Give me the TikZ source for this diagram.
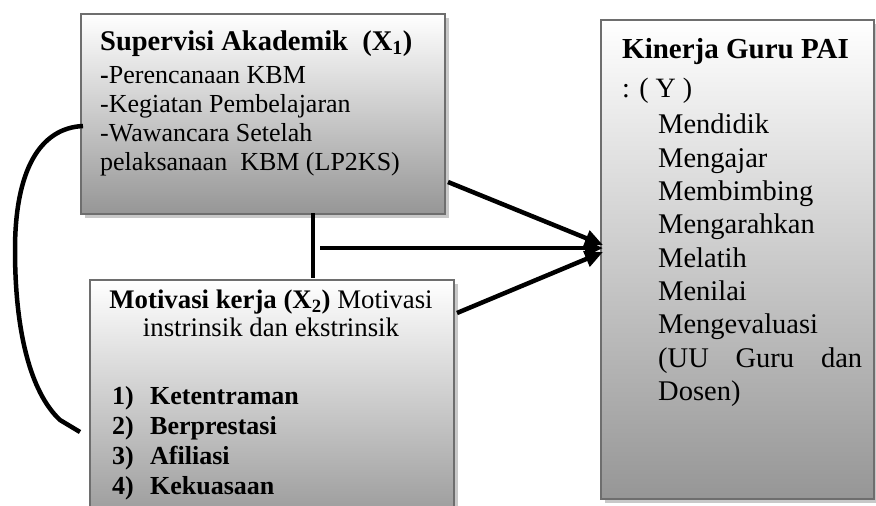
\documentclass[tikz,border=0pt]{standalone}
\usepackage{fontspec}
\setmainfont{Liberation Serif}
\usetikzlibrary{shadows,arrows.meta}
\definecolor{boxedge}{RGB}{110,110,110}
\definecolor{boxbot}{RGB}{150,150,150}
\definecolor{shadowc}{RGB}{200,200,200}
\begin{document}
\begin{tikzpicture}[x=1pt,y=-1pt,
  box/.style={draw=boxedge, line width=2pt, top color=white, bottom color=boxbot,
    inner sep=0pt, anchor=north west,
    drop shadow={shadow xshift=4pt, shadow yshift=-4pt, fill=shadowc, opacity=1}},
  txt/.style={inner sep=0pt, font=\fontsize{26}{29}\selectfont},
  conn/.style={line width=4.5pt},
  arr/.style={conn, -{Triangle[length=18pt,width=16pt]}}]
\clip (0,0) rectangle (876,506);
\fill[white] (0,0) rectangle (876,506);
% boxes
\node[box, minimum width=364pt, minimum height=200pt] (sup) at (80,13) {};
\node[box, minimum width=364pt, minimum height=250pt] (mot) at (89,279) {};
\node[box, minimum width=273pt, minimum height=479pt] (kin) at (600,19) {};
% texts
\node[txt, anchor=base west, font=\bfseries\fontsize{28.5}{29}\selectfont] (suph) at (100,50)
  {Supervisi Akademik\ \ (X\textsubscript{1})};
\node[txt, anchor=north west, align=left] (supt) at (100,66)
  {\textbf{-}Perencanaan KBM\\-Kegiatan Pembelajaran\\-Wawancara Setelah\\pelaksanaan\ \ KBM (LP2KS)};
\node[txt, anchor=north, align=center, font=\fontsize{26.8}{28}\selectfont] (mott) at (271,290)
  {\textbf{Motivasi kerja (X\textsubscript{2})} Motivasi\\instrinsik dan ekstrinsik};
\node[txt, anchor=north west, align=left, font=\bfseries\fontsize{26}{30}\selectfont] (motl) at (112,386)
  {\makebox[38pt][l]{1)}Ketentraman\\\makebox[38pt][l]{2)}Berprestasi\\\makebox[38pt][l]{3)}Afiliasi\\\makebox[38pt][l]{4)}Kekuasaan};
\node[txt, anchor=base west, font=\bfseries\fontsize{29}{29}\selectfont] (kint) at (622,58) {Kinerja Guru PAI};
\node[txt, anchor=base west, font=\fontsize{28}{29}\selectfont] (kiny) at (622,97) {: ( Y )};
\node[txt, anchor=north west, align=left, font=\fontsize{28.5}{33.3}\selectfont] (kinl) at (658,114)
  {Mendidik\\Mengajar\\Membimbing\\Mengarahkan\\Melatih\\Menilai\\Mengevaluasi\\\makebox[204pt][s]{(UU Guru dan}\\Dosen)};
% connector coordinates
\coordinate (curveS) at (83,126);
\coordinate (curveE) at (80,432);
\coordinate (vTop) at (313,213);
\coordinate (vBot) at (313,278);
\coordinate (hS) at (320,248);
\coordinate (a1S) at (448,182);
\coordinate (a3S) at (457,313);
\coordinate (tip1) at (603,245);
\coordinate (tip2) at (603,248);
\coordinate (tip3) at (603,252);
% connectors
\draw[conn] (curveS) .. controls (40,128) and (15,170) .. (15,250)
  .. controls (15,330) and (30,392) .. (60,420) -- (curveE);
\draw[conn] (vTop) -- (vBot);
\draw[arr] (hS) -- (tip2);
\draw[arr] (a1S) -- (tip1);
\draw[arr] (a3S) -- (tip3);
\end{tikzpicture}
\end{document}
